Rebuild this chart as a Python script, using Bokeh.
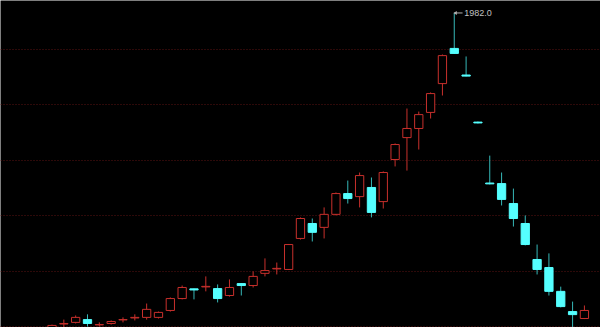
from bokeh.plotting import figure
from bokeh.models import ColumnDataSource, Range1d, FixedTicker
from bokeh.embed import file_html
from bokeh.resources import INLINE
from bokeh.core.properties import value

# Daily candles
opens  = [832, 859, 865, 875, 856, 861, 874, 881, 883, 883,
          908, 951, 986, 993, 987, 962, 1005, 998, 1042, 1058,
          1056, 1168, 1222, 1208, 1255, 1330, 1319, 1352, 1301, 1453,
          1532, 1565, 1623, 1727, 1854, 1758, 1588, 1368, 1366, 1294,
          1222, 1092, 1063, 977, 904, 879]
highs  = [857, 875, 890, 894, 865, 872, 883, 894, 933, 904,
          955, 998, 987, 1031, 1002, 1020, 1007, 1049, 1096, 1081,
          1148, 1244, 1240, 1280, 1334, 1377, 1406, 1388, 1410, 1511,
          1637, 1626, 1695, 1832, 1982, 1825, 1590, 1467, 1406, 1348,
          1251, 1146, 1114, 994, 940, 926]
lows   = [825, 843, 861, 850, 850, 857, 865, 872, 875, 879,
          904, 948, 948, 977, 937, 958, 962, 991, 1031, 1038,
          1054, 1164, 1157, 1168, 1251, 1294, 1280, 1244, 1276, 1428,
          1413, 1489, 1601, 1684, 1834, 1753, 1583, 1363, 1287, 1211,
          1143, 1038, 962, 919, 836, 877]
closes = [854, 861, 883, 861, 857, 868, 875, 883, 912, 901,
          951, 991, 982, 995, 951, 991, 998, 1031, 1052, 1060,
          1146, 1240, 1190, 1255, 1330, 1312, 1395, 1262, 1406, 1507,
          1565, 1615, 1691, 1828, 1836, 1754, 1585, 1365, 1309, 1240,
          1146, 1056, 977, 922, 893, 908]
grid_levels = [850, 1050, 1250, 1450, 1650, 1850]
peak_label = "1982.0"

idx = list(range(len(opens)))
inc = [i for i in idx if closes[i] >= opens[i]]
dec = [i for i in idx if closes[i] < opens[i]]

def sub(ids):
    return ColumnDataSource(dict(
        x=ids,
        o=[opens[i] for i in ids],
        h=[highs[i] for i in ids],
        l=[lows[i] for i in ids],
        c=[closes[i] for i in ids],
        top=[max(opens[i], closes[i]) for i in ids],
        bot=[min(opens[i], closes[i]) for i in ids],
    ))

src_inc = sub(inc)
src_dec = sub(dec)

p = figure(width=600, height=327, output_backend="svg", toolbar_location=None,
           x_range=Range1d(-4.353, 46.36), y_range=Range1d(846.5, 2027),
           min_border=0, min_border_left=0, min_border_right=0,
           min_border_top=0, min_border_bottom=0)
p.background_fill_color = "black"
p.border_fill_color = "black"
p.outline_line_color = None
p.xaxis.visible = False
p.yaxis.visible = False
p.xgrid.visible = False
p.ygrid.ticker = FixedTicker(ticks=grid_levels)
p.ygrid.grid_line_color = "#5a1212"
p.ygrid.grid_line_dash = "1 2"
p.ygrid.grid_line_width = 1

red = "#c8302c"
cyan = "#55ffff"
teal = "#36b8b8"
w = 0.7

# up candles: hollow red
p.segment(x0="x", y0="h", x1="x", y1="l", source=src_inc, line_color=red, line_width=1)
p.vbar(x="x", top="top", bottom="bot", width=w, source=src_inc,
       fill_color="black", line_color=red, line_width=1)

# down candles: filled cyan
p.segment(x0="x", y0="h", x1="x", y1="l", source=src_dec, line_color=teal, line_width=1)
p.vbar(x="x", top="top", bottom="bot", width=w, source=src_dec,
       fill_color=cyan, line_color=cyan, line_width=1)

# peak annotation
pk = highs.index(max(highs))
p.segment(x0=[pk], y0=[highs[pk]], x1=[pk + 0.7], y1=[highs[pk]], line_color="#b0b0b0", line_width=1)
p.scatter(x=[pk + 0.12], y=[highs[pk]], marker="triangle", angle=1.5708, size=4,
          fill_color="#b0b0b0", line_color=None)
p.text(x=[pk + 0.85], y=[highs[pk]], text=[peak_label], text_font=value("Liberation Sans"),
       text_font_size="9px", text_baseline="middle", text_align="left", text_color="#c0c0c0")

html = file_html(p, INLINE)
html = html.replace("<body>", '<body style="margin:0;background:black;">', 1)
open("out.html", "w").write(html)
